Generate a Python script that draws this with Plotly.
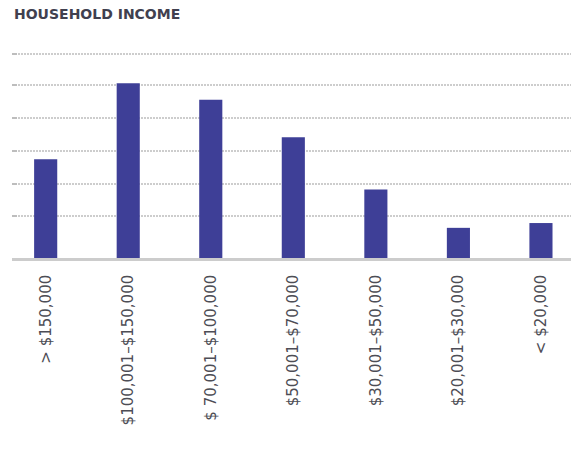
import plotly.graph_objects as go

# Household income distribution (share of households, %)
income_brackets = [
    "> $150,000",
    "$100,001\u2013$150,000",
    "$ 70,001\u2013$100,000",
    "$50,001\u2013$70,000",
    "$30,001\u2013$50,000",
    "$20,001\u2013$30,000",
    "< $20,000",
]
household_share = [14.4, 25.5, 23.1, 17.6, 10.0, 4.4, 5.1]

BAR_COLOR = "#3e3f97"
GRID_COLOR = "#cdcdcd"
TEXT_COLOR = "#4d4d55"

# Dotted guide lines across the plot
grid_levels = [6.1, 10.8, 15.6, 20.4, 25.2, 29.8]

fig = go.Figure(
    go.Bar(
        x=list(range(len(income_brackets))),
        y=household_share,
        marker=dict(color=BAR_COLOR, line=dict(width=0)),
        hoverinfo="skip",
    )
)

fig.update_layout(
    width=571,
    height=450,
    autosize=False,
    paper_bgcolor="white",
    plot_bgcolor="white",
    margin=dict(l=12, r=0, t=40, b=192, pad=0),
    bargap=0.72,
    showlegend=False,
    font=dict(family="DejaVu Sans", color=TEXT_COLOR),
    title=dict(
        text="<b>HOUSEHOLD INCOME</b>",
        font=dict(family="DejaVu Sans", size=14, color="#40404f"),
        xref="container",
        yref="container",
        x=14 / 571,
        xanchor="left",
        y=1 - 9 / 450,
        yanchor="top",
    ),
)

fig.update_xaxes(
    range=[-0.408, 6.364],
    tickmode="array",
    tickvals=list(range(len(income_brackets))),
    ticktext=income_brackets,
    tickangle=-90,
    tickfont=dict(family="DejaVu Sans", size=15, color=TEXT_COLOR),
    ticks="",
    ticklabelstandoff=8,
    showgrid=False,
    showline=True,
    linecolor="#cccccc",
    linewidth=2.5,
    zeroline=False,
    fixedrange=True,
)

fig.update_yaxes(
    range=[0, 31.8],
    tickmode="array",
    tickvals=grid_levels,
    showticklabels=False,
    ticks="inside",
    ticklen=5,
    tickwidth=2,
    tickcolor="#bdbdbd",
    showgrid=True,
    gridcolor=GRID_COLOR,
    gridwidth=1.5,
    griddash="1.5px,1.5px",
    zeroline=False,
    showline=False,
    fixedrange=True,
)

fig.write_html("out.html")
